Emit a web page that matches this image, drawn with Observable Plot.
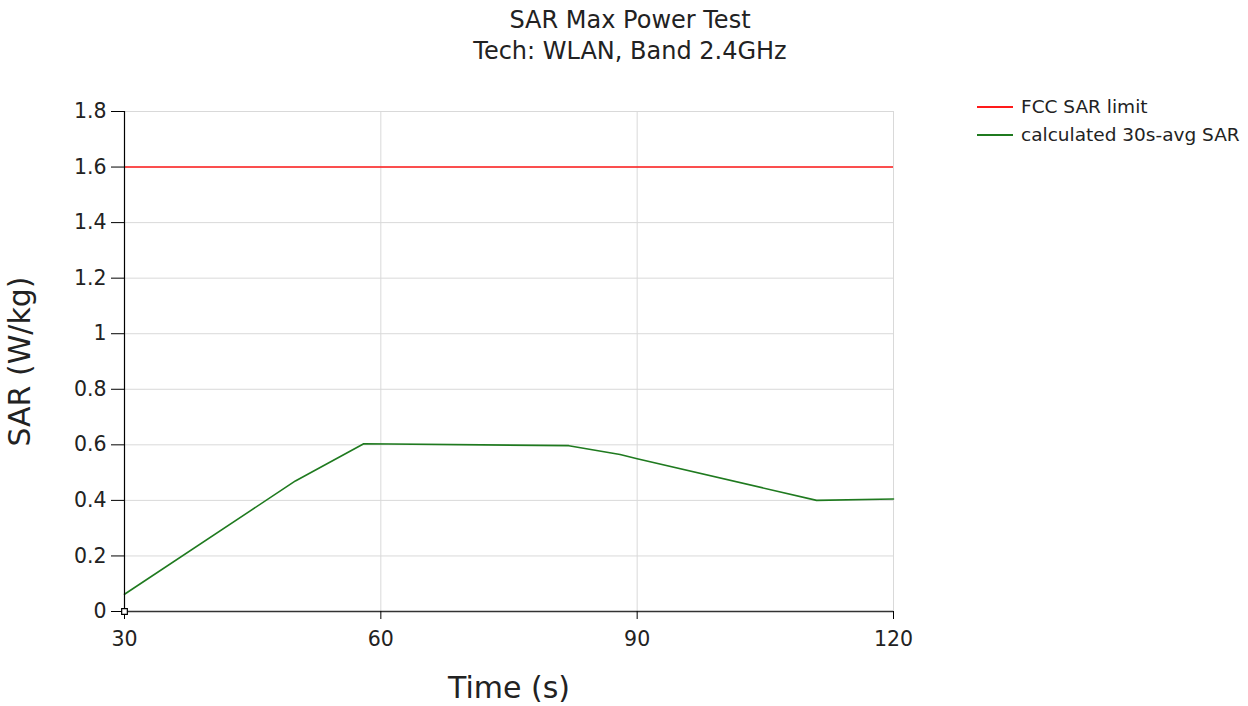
<!DOCTYPE html>
<html>
<head>
<meta charset="utf-8">
<script src="https://cdn.jsdelivr.net/npm/d3@7"></script>
<script src="https://cdn.jsdelivr.net/npm/@observablehq/plot@0.6"></script>
<style>
  html, body { margin: 0; padding: 0; background: #fff; }
  #wrap { position: relative; width: 1248px; height: 706px; font-family: "DejaVu Sans", Verdana, sans-serif; color: #222; }
  #title { position: absolute; left: 630px; top: 5px; transform: translateX(-50%); text-align: center; font-size: 24px; line-height: 31px; white-space: nowrap; color: #222; }
  #legend { position: absolute; left: 977px; top: 93px; font-size: 18.5px; line-height: 28px; color: #222; }
  #legend .row { display: flex; align-items: center; white-space: nowrap; }
  #legend .sw { display: inline-block; width: 36px; height: 2px; margin-right: 8px; }
  #chart { position: absolute; left: 0; top: 0; }
  g[aria-label="x-axis label"] text, g[aria-label="y-axis label"] text { font-size: 30px; }
</style>
</head>
<body>
<div id="wrap">
  <div id="chart"></div>
  <div id="title"></div>
  <div id="legend"></div>
</div>
<script>
// ---- data ----
const titleLines = ["SAR Max Power Test", "Tech: WLAN, Band 2.4GHz"];
const xLabel = "Time (s)";
const yLabel = "SAR (W/kg)";
const seriesNames = ["FCC SAR limit", "calculated 30s-avg SAR"];
const seriesColors = ["#ff1a1a", "#1f7a1f"];
const times = [30, 50, 58, 82, 88, 90, 111, 120];
const sarValues = [0.062, 0.47, 0.604, 0.597, 0.565, 0.55, 0.40, 0.405];
const limitValue = 1.6;
const xTicks = [30, 60, 90, 120];
const yTicks = [0, 0.2, 0.4, 0.6, 0.8, 1, 1.2, 1.4, 1.6, 1.8];
const yTickLabels = ["0", "0.2", "0.4", "0.6", "0.8", "1", "1.2", "1.4", "1.6", "1.8"];
const originMarker = [[30, 0]];

// ---- build ----
const sarData = times.map((t, i) => ({t, v: sarValues[i]}));

document.getElementById("title").innerHTML = titleLines.map(s => `<div>${s}</div>`).join("");
document.getElementById("legend").innerHTML = seriesNames.map((n, i) =>
  `<div class="row"><span class="sw" style="background:${seriesColors[i]}"></span>${n}</div>`).join("");

const chart = Plot.plot({
  width: 1248,
  height: 706,
  marginLeft: 124,
  marginRight: 355,
  marginTop: 111,
  marginBottom: 95,
  style: {fontFamily: "'DejaVu Sans', Verdana, sans-serif", fontSize: "20.5px", color: "#222", background: "transparent"},
  x: {domain: [30, 120]},
  y: {domain: [0, 1.8]},
  marks: [
    Plot.gridX(xTicks, {stroke: "#d9d9d9", strokeOpacity: 1, strokeWidth: 1}),
    Plot.gridY(yTicks, {stroke: "#d9d9d9", strokeOpacity: 1, strokeWidth: 1}),
    Plot.ruleY([limitValue], {stroke: seriesColors[0], strokeWidth: 1.5}),
    Plot.line(sarData, {x: "t", y: "v", stroke: seriesColors[1], strokeWidth: 1.6}),
    Plot.ruleX([30], {stroke: "#000", strokeWidth: 1.2}),
    Plot.ruleY([0], {stroke: "#333", strokeWidth: 1.5}),
    Plot.axisX(xTicks, {tickSize: 8, tickPadding: 12, stroke: "#000", label: xLabel, labelAnchor: "center", labelOffset: 86, labelArrow: "none"}),
    Plot.axisY(yTicks, {tickSize: 13, tickPadding: 5, stroke: "#000", tickFormat: (d) => yTickLabels[yTicks.indexOf(d)], label: yLabel, labelAnchor: "center", labelOffset: 116, labelArrow: "none"}),
    Plot.dot(originMarker, {x: d => d[0], y: d => d[1], symbol: "square", r: 3.2, fill: "#fff", stroke: "#000", strokeWidth: 1.2})
  ]
});
document.getElementById("chart").appendChild(chart);
</script>
</body>
</html>
